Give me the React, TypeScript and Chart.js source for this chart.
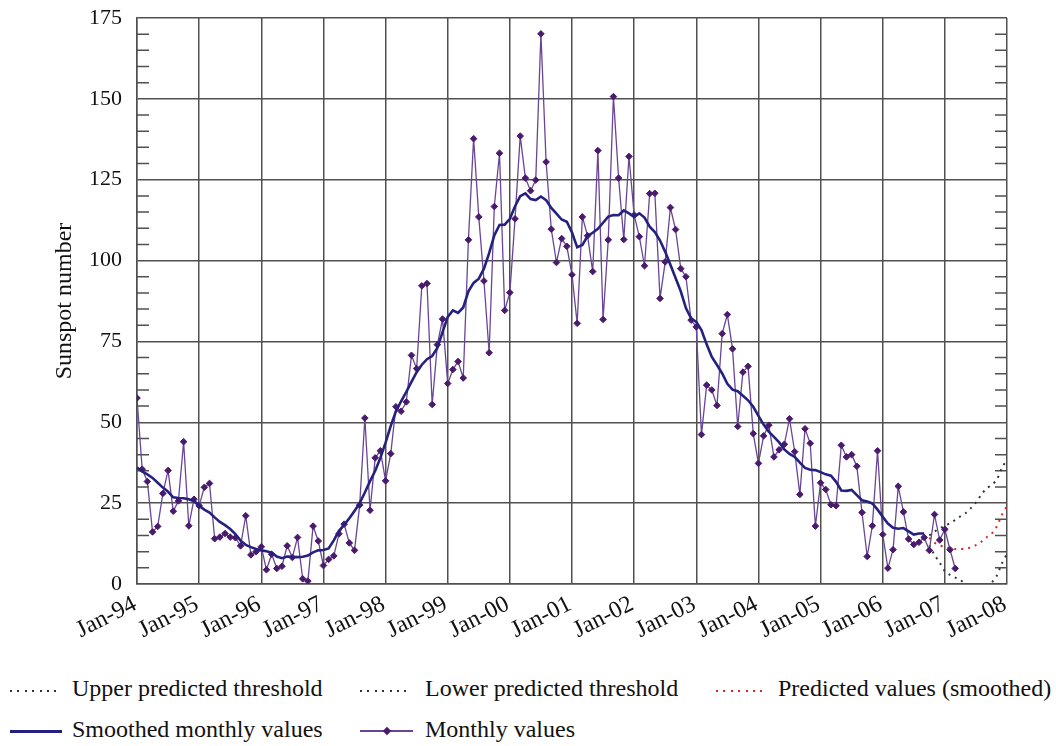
import React, { useEffect, useRef } from 'react';
import { Chart, registerables } from 'chart.js';

Chart.register(...registerables);

// ---------- data ----------
const xTickLabels = [
  'Jan-94', 'Jan-95', 'Jan-96', 'Jan-97', 'Jan-98', 'Jan-99', 'Jan-00',
  'Jan-01', 'Jan-02', 'Jan-03', 'Jan-04', 'Jan-05', 'Jan-06', 'Jan-07', 'Jan-08',
];

// Monthly values, Jan-94 .. Mar-07 (x = month index from Jan-94)
const monthlyValues = [
  57.5, 35.5, 31.7, 16.1, 17.8, 28.0, 35.1, 22.5, 25.7, 44.0, 18.0, 26.2,
  24.2, 29.9, 31.1, 14.0, 14.5, 15.6, 14.5, 14.3, 11.8, 21.1, 9.0, 10.0,
  11.5, 4.4, 9.2, 4.8, 5.5, 11.8, 8.2, 14.4, 1.6, 0.9, 17.9, 13.3,
  5.7, 7.6, 8.7, 15.5, 18.5, 12.7, 10.4, 24.4, 51.3, 22.8, 39.0, 41.2,
  31.9, 40.3, 54.8, 53.4, 56.3, 70.7, 66.6, 92.2, 92.9, 55.5, 74.0, 81.9,
  62.0, 66.3, 68.8, 63.7, 106.4, 137.7, 113.5, 93.7, 71.5, 116.7, 133.2, 84.6,
  90.1, 112.9, 138.5, 125.5, 121.6, 124.9, 170.1, 130.5, 109.7, 99.4, 106.8, 104.4,
  95.6, 80.6, 113.5, 107.7, 96.6, 134.0, 81.8, 106.4, 150.7, 125.5, 106.5, 132.2,
  114.1, 107.4, 98.4, 120.7, 120.8, 88.3, 99.6, 116.4, 109.6, 97.5, 95.0, 81.6,
  79.5, 46.2, 61.5, 60.0, 55.2, 77.4, 83.3, 72.7, 48.7, 65.5, 67.3, 46.5,
  37.3, 45.8, 49.1, 39.3, 41.5, 43.2, 51.1, 40.9, 27.7, 48.0, 43.5, 17.9,
  31.3, 29.2, 24.5, 24.2, 42.9, 39.3, 40.0, 36.4, 22.1, 8.5, 18.0, 41.2,
  15.3, 4.9, 10.6, 30.2, 22.3, 13.9, 12.2, 12.9, 14.4, 10.4, 21.5, 13.6,
  16.9, 10.6, 4.8,
];

// Smoothed monthly values, Jan-94 .. Sep-06
const smoothedValues = [
  36.0, 34.8, 33.9, 32.8, 31.3, 29.8, 28.5, 26.8, 26.6, 26.5, 26.2, 25.6,
  24.2, 23.0, 22.1, 20.6, 19.2, 18.2, 17.0, 15.4, 13.4, 12.1, 11.4, 10.8,
  10.4, 10.1, 9.7, 8.5, 8.0, 8.5, 8.4, 8.3, 8.4, 8.8, 9.8, 10.4,
  10.5, 11.0, 13.5, 16.5, 18.3, 20.3, 22.6, 25.0, 28.3, 31.8, 35.0, 39.0,
  43.7, 48.9, 53.4, 56.5, 59.4, 62.5, 65.5, 67.8, 69.5, 70.5, 73.0, 77.9,
  82.6, 84.6, 83.8, 85.5, 90.5, 93.1, 94.4, 97.5, 102.3, 107.8, 111.0, 111.1,
  112.9, 116.8, 119.9, 120.8, 119.0, 118.7, 119.8, 118.7, 116.3, 114.5, 112.7, 112.0,
  108.7, 104.1, 104.8, 107.6, 108.6, 109.8, 111.7, 113.6, 114.1, 114.0, 115.5, 114.6,
  113.5, 114.6, 113.3, 110.5, 108.8, 106.2, 102.7, 98.7, 94.6, 90.5, 85.3, 82.1,
  81.0, 78.5, 74.1, 70.2, 67.7, 65.1, 61.9, 60.1, 59.6, 58.2, 56.8, 54.8,
  52.0, 49.3, 47.1, 45.5, 43.8, 41.6, 40.2, 39.3, 37.5, 35.9, 35.3, 35.2,
  34.6, 33.9, 33.5, 31.6, 28.9, 28.8, 29.1, 27.5, 25.9, 25.5, 24.9, 23.0,
  20.8, 18.7, 17.4, 17.1, 17.3, 16.3, 15.3, 15.6, 15.6,
];

// Predictions, Oct-06 .. Jan-08
const predictionStartMonth = 153;
const upperThreshold = [15.0, 16.2, 17.2, 18.0, 18.8, 19.8, 20.9, 21.9, 23.4, 25.2, 27.5, 29.5, 30.6, 32.2, 35.8, 38.5];
const predictedSmoothed = [14.3, 12.8, 12.0, 11.4, 11.0, 10.8, 10.8, 10.9, 11.3, 12.0, 13.0, 14.4, 15.5, 17.7, 21.3, 24.1];
const lowerThreshold = [12.0, 9.0, 6.6, 4.0, 2.8, 2.0, 1.2, 0.0, -1.0, -1.5, -1.2, -0.5, 0.4, 2.5, 6.3, 9.3];

// ---------- styles ----------
const FONT = "'Liberation Serif', 'Times New Roman', serif";
const GRID = '#505050';
const MONTHLY_LINE = '#6a4597';
const MONTHLY_POINT = '#4a1a6c';
const SMOOTH = '#25227f';
const DOT_DARK = '#333333';
const DOT_RED = '#e3201c';
const MINOR_STEP = 5;
const MAJOR_STEP = 25;

const toXY = (vals: number[], start: number) => vals.map((v, i) => ({ x: start + i, y: v }));

const minorTicksPlugin = {
  id: 'minorTicks',
  beforeDatasetsDraw(chart: any) {
    const ys = chart.scales.y;
    const { left, right } = chart.chartArea;
    const ctx = chart.ctx;
    ctx.save();
    ctx.strokeStyle = GRID;
    ctx.lineWidth = 1.5;
    for (let v = ys.min + MINOR_STEP; v < ys.max; v += MINOR_STEP) {
      if (v % MAJOR_STEP === 0) continue;
      const py = ys.getPixelForValue(v);
      ctx.beginPath();
      ctx.moveTo(left, py);
      ctx.lineTo(left + 12, py);
      ctx.moveTo(right - 12, py);
      ctx.lineTo(right, py);
      ctx.stroke();
    }
    ctx.restore();
  },
};

function ChartCanvas() {
  const ref = useRef<HTMLCanvasElement | null>(null);
  useEffect(() => {
    if (!ref.current) return;
    const chart = new Chart(ref.current, {
      type: 'line',
      data: {
        datasets: [
          {
            label: 'Smoothed monthly values',
            data: toXY(smoothedValues, 0),
            borderColor: SMOOTH,
            borderWidth: 2.6,
            pointRadius: 0,
            tension: 0,
            order: 0,
          },
          {
            label: 'Monthly values',
            data: toXY(monthlyValues, 0),
            borderColor: MONTHLY_LINE,
            borderWidth: 1.3,
            pointStyle: 'rectRot',
            pointRadius: 3.3,
            pointBackgroundColor: MONTHLY_POINT,
            pointBorderColor: MONTHLY_POINT,
            pointBorderWidth: 1,
            tension: 0,
            order: 1,
          },
          {
            label: 'Predicted values (smoothed)',
            data: toXY(predictedSmoothed, predictionStartMonth),
            borderColor: DOT_RED,
            borderWidth: 2,
            borderDash: [2, 5],
            pointRadius: 0,
            tension: 0.3,
            order: 2,
          },
          {
            label: 'Upper predicted threshold',
            data: toXY(upperThreshold, predictionStartMonth),
            borderColor: DOT_DARK,
            borderWidth: 2,
            borderDash: [2, 5],
            pointRadius: 0,
            tension: 0.3,
            order: 2,
          },
          {
            label: 'Lower predicted threshold',
            data: toXY(lowerThreshold, predictionStartMonth),
            borderColor: DOT_DARK,
            borderWidth: 2,
            borderDash: [2, 5],
            pointRadius: 0,
            tension: 0.3,
            order: 2,
          },
        ],
      },
      options: {
        animation: false,
        responsive: false,
        devicePixelRatio: 1,
        layout: { padding: { left: 0, right: 49, top: 18, bottom: 0 } },
        plugins: { legend: { display: false }, tooltip: { enabled: false } },
        scales: {
          x: {
            type: 'linear',
            min: 0,
            max: (xTickLabels.length - 1) * 12,
            afterBuildTicks: (scale: any) => {
              scale.ticks = xTickLabels.map((_, i) => ({ value: i * 12 }));
            },
            afterFit: (scale: any) => {
              scale.height = 76;
            },
            ticks: {
              autoSkip: false,
              minRotation: 27,
              maxRotation: 27,
              padding: 6,
              labelOffset: -2,
              font: { family: FONT, size: 24 },
              color: '#111',
              callback: (_v: any, i: number) => xTickLabels[i],
            },
            grid: { color: GRID, lineWidth: 1.5, drawTicks: false },
            border: { display: true, color: GRID, width: 1.5 },
          },
          y: {
            min: 0,
            max: 175,
            afterFit: (scale: any) => {
              scale.width = 137;
              scale.paddingTop = 0;
              scale.paddingBottom = 0;
            },
            ticks: { stepSize: MAJOR_STEP, padding: 15, font: { family: FONT, size: 22 }, color: '#111' },
            grid: { color: GRID, lineWidth: 1.5, drawTicks: false },
            border: { display: true, color: GRID, width: 1.5 },
            title: {
              display: true,
              text: 'Sunspot number',
              font: { family: FONT, size: 24 },
              color: '#111',
              padding: { top: 50, bottom: 0 },
            },
          },
        },
      },
      plugins: [minorTicksPlugin],
    } as any);
    return () => chart.destroy();
  }, []);
  return (
    <canvas
      ref={ref}
      width={1056}
      height={660}
      style={{ position: 'absolute', left: 0, top: 0, width: 1056, height: 660 }}
    />
  );
}

type Sample = 'dotDark' | 'dotRed' | 'solid' | 'marker';
const legendItems: { text: string; sample: Sample; col: number; row: number }[] = [
  { text: 'Upper predicted threshold', sample: 'dotDark', col: 0, row: 0 },
  { text: 'Lower predicted threshold', sample: 'dotDark', col: 1, row: 0 },
  { text: 'Predicted values (smoothed)', sample: 'dotRed', col: 2, row: 0 },
  { text: 'Smoothed monthly values', sample: 'solid', col: 0, row: 1 },
  { text: 'Monthly values', sample: 'marker', col: 1, row: 1 },
];
const colSampleX = [10, 360, 716];
const colTextX = [72, 425, 778];
const rowTextTop = [676, 717];
const rowSampleY = [691, 731];

function LegendSample({ kind, x, y }: { kind: Sample; x: number; y: number }) {
  if (kind === 'dotDark' || kind === 'dotRed') {
    const c = kind === 'dotDark' ? DOT_DARK : DOT_RED;
    return (
      <div
        style={{
          position: 'absolute', left: x, top: y - 1, width: 52, height: 2,
          backgroundImage: `repeating-linear-gradient(to right, ${c} 0px, ${c} 2px, transparent 2px, transparent 7.4px)`,
        }}
      />
    );
  }
  if (kind === 'solid') {
    return <div style={{ position: 'absolute', left: x, top: y - 1.5, width: 52, height: 3, background: SMOOTH }} />;
  }
  return (
    <>
      <div style={{ position: 'absolute', left: x, top: y - 1, width: 53, height: 2, background: MONTHLY_LINE }} />
      <div
        style={{
          position: 'absolute', left: x + 23.5, top: y - 3, width: 6, height: 6,
          background: MONTHLY_POINT, transform: 'rotate(45deg)',
        }}
      />
    </>
  );
}

export default function App() {
  return (
    <div style={{ position: 'absolute', left: 0, top: 0, width: 1056, height: 746, background: '#fff', overflow: 'hidden' }}>
      <ChartCanvas />
      {legendItems.map((it) => (
        <React.Fragment key={it.text}>
          <LegendSample kind={it.sample} x={colSampleX[it.col]} y={rowSampleY[it.row]} />
          <div
            style={{
              position: 'absolute', left: colTextX[it.col], top: rowTextTop[it.row],
              fontFamily: FONT, fontSize: 24, lineHeight: '24px', color: '#111', whiteSpace: 'nowrap',
            }}
          >
            {it.text}
          </div>
        </React.Fragment>
      ))}
    </div>
  );
}
